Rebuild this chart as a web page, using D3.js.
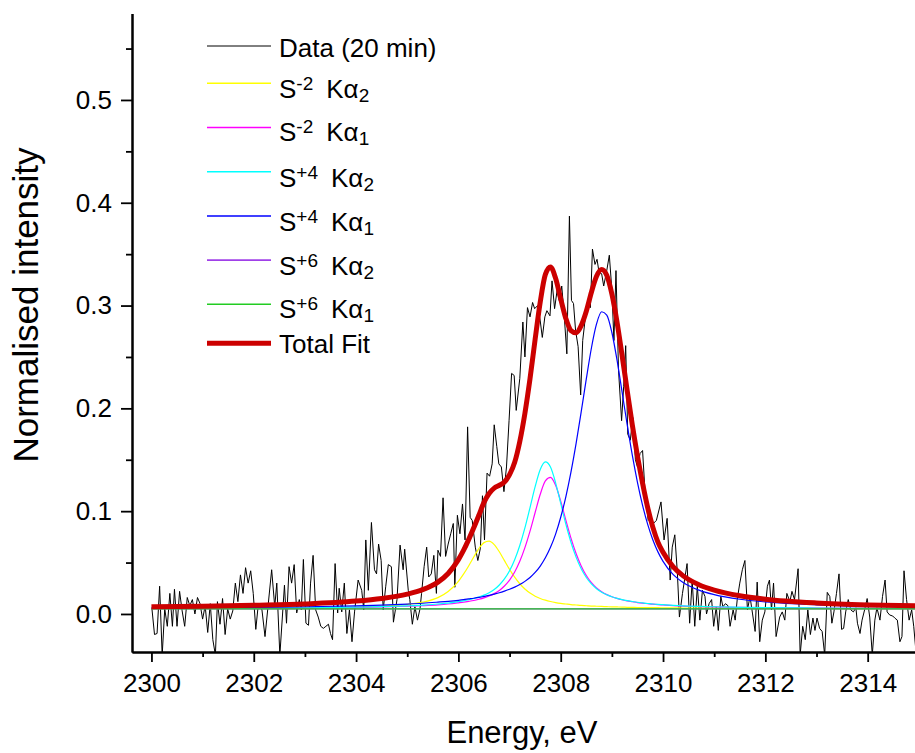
<!DOCTYPE html>
<html lang="en">
<head>
<meta charset="UTF-8" />
<title>Sulfur K-alpha spectrum fit</title>
<script src="https://d3js.org/d3.v7.min.js"></script>
<style>
  body { margin: 0; background: #fff; }
  svg text { font-family: "Liberation Sans", Arial, sans-serif; fill: #000; }
</style>
</head>
<body>
<div id="chart"></div>
<script>
// measured spectrum: [energy eV, normalised intensity]
const dataPoints = [
  [2300.01,0.005],[2300.06,-0.020],[2300.11,-0.019],[2300.16,0.027],[2300.21,-0.040],[2300.26,0.005],[2300.31,-0.012],[2300.36,0.020],[2300.41,-0.012],[2300.45,0.024],
  [2300.50,-0.012],[2300.55,0.022],[2300.60,0.003],[2300.65,-0.012],[2300.70,0.016],[2300.75,0.008],[2300.80,0.014],[2300.85,0.000],[2300.90,0.016],[2300.95,0.010],
  [2301.00,-0.005],[2301.05,0.008],[2301.10,-0.018],[2301.15,0.010],[2301.20,-0.025],[2301.25,-0.040],[2301.29,0.012],[2301.34,-0.010],[2301.39,0.015],[2301.44,-0.020],
  [2301.49,0.005],[2301.54,-0.005],[2301.59,0.003],[2301.64,0.030],[2301.69,0.012],[2301.74,0.038],[2301.79,0.020],[2301.84,0.045],[2301.89,0.030],[2301.94,0.042],
  [2301.99,0.020],[2302.04,-0.015],[2302.09,0.010],
  [2302.16,0.004],[2302.22,-0.022],[2302.35,0.043],[2302.41,0.007],[2302.45,0.030],[2302.51,-0.040],[2302.60,0.028],[2302.64,-0.009],[2302.69,0.046],[2302.74,0.030],
  [2302.79,0.048],[2302.84,0.001],[2302.89,0.014],[2302.93,0.004],[2302.97,0.053],[2303.02,-0.009],[2303.07,-0.011],[2303.11,0.030],[2303.16,0.057],[2303.21,0.004],
  [2303.26,-0.003],[2303.31,-0.012],[2303.36,-0.014],[2303.41,-0.012],[2303.46,-0.010],[2303.50,-0.019],[2303.54,-0.025],[2303.59,0.049],[2303.64,0.001],[2303.67,0.025],
  [2303.72,0.002],[2303.77,0.030],[2303.82,-0.019],[2303.87,0.004],[2303.92,-0.027],[2303.97,0.002],[2304.04,0.033],[2304.11,0.023],[2304.15,0.004],[2304.19,0.072],
  [2304.24,0.023],[2304.30,0.089],[2304.36,0.043],[2304.40,0.039],[2304.44,0.068],[2304.49,0.052],[2304.53,0.004],[2304.58,0.027],[2304.63,0.048],[2304.69,0.046],
  [2304.73,-0.008],[2304.80,0.014],[2304.86,0.067],[2304.92,0.043],[2304.95,0.063],[2305.02,0.023],[2305.05,0.014],[2305.10,-0.010],[2305.15,0.007],[2305.20,-0.006],
  [2305.25,0.005],[2305.28,0.020],[2305.33,0.046],[2305.38,0.065],[2305.42,0.036],[2305.47,0.039],[2305.52,0.057],[2305.57,0.020],[2305.60,0.062],[2305.65,0.056],
  [2305.70,0.113],[2305.75,0.056],[2305.80,0.068],[2305.85,0.078],[2305.90,0.088],[2305.93,0.026],[2305.98,0.096],[2306.03,0.078],[2306.08,0.107],[2306.13,0.072],
  [2306.18,0.182],[2306.23,0.094],[2306.27,0.091],[2306.33,0.065],[2306.38,0.052],[2306.43,0.064],[2306.47,0.115],[2306.51,0.072],[2306.56,0.137],[2306.61,0.134],
  [2306.66,0.146],[2306.70,0.184],[2306.75,0.163],[2306.79,0.146],[2306.84,0.143],[2306.89,0.119],[2306.94,0.143],[2306.99,0.188],[2307.04,0.234],[2307.09,0.232],
  [2307.13,0.198],
  [2307.20,0.229],[2307.26,0.284],[2307.30,0.250],[2307.35,0.298],[2307.40,0.289],[2307.45,0.303],[2307.49,0.297],[2307.55,0.300],[2307.60,0.285],[2307.64,0.269],
  [2307.69,0.289],[2307.73,0.295],[2307.79,0.290],[2307.83,0.324],[2307.88,0.297],[2307.93,0.315],[2307.97,0.305],[2308.02,0.319],[2308.07,0.289],[2308.12,0.253],
  [2308.17,0.387],[2308.21,0.305],[2308.25,0.302],[2308.29,0.276],[2308.34,0.260],[2308.39,0.213],[2308.43,0.266],[2308.49,0.292],[2308.53,0.305],[2308.58,0.298],
  [2308.62,0.355],[2308.67,0.340],[2308.71,0.345],[2308.75,0.332],[2308.80,0.331],[2308.84,0.319],[2308.90,0.334],[2308.95,0.349],[2309.00,0.315],[2309.04,0.266],
  [2309.08,0.334],[2309.13,0.237],[2309.19,0.188],[2309.23,0.221],[2309.27,0.261],[2309.31,0.175],[2309.36,0.169],[2309.41,0.191],[2309.46,0.150],[2309.50,0.143],
  [2309.55,0.156],[2309.60,0.159],[2309.65,0.117],[2309.71,0.091],
  [2309.74,0.095],[2309.81,0.088],[2309.87,0.091],[2309.96,0.109],[2310.02,0.072],[2310.08,0.093],[2310.14,0.033],[2310.18,0.065],[2310.23,0.077],[2310.28,0.040],
  [2310.32,-0.003],[2310.38,0.020],[2310.42,0.033],[2310.47,0.049],[2310.52,-0.009],[2310.57,0.033],[2310.62,-0.012],[2310.67,0.027],[2310.72,-0.006],[2310.77,0.023],
  [2310.82,0.017],[2310.85,0.000],[2310.90,0.010],[2310.95,0.014],[2310.99,-0.012],[2311.04,0.007],[2311.08,-0.016],[2311.13,0.017],[2311.17,0.007],[2311.22,0.010],
  [2311.27,0.008],[2311.31,-0.012],[2311.37,0.004],[2311.41,-0.006],[2311.45,0.014],[2311.50,0.030],[2311.55,0.043],[2311.60,0.052],[2311.65,0.004],[2311.70,0.017],
  [2311.75,0.000],[2311.80,-0.017],[2311.84,0.031],[2311.89,-0.027],[2311.94,-0.006],[2311.99,0.002],[2312.04,0.027],[2312.08,0.033],[2312.12,0.004],[2312.16,0.030],
  [2312.21,-0.022],
  [2312.28,-0.003],[2312.33,0.002],[2312.38,-0.006],[2312.42,0.020],[2312.48,0.012],[2312.52,0.022],[2312.57,0.014],[2312.64,0.044],[2312.68,-0.040],[2312.73,-0.012],
  [2312.78,-0.025],[2312.83,0.004],[2312.88,-0.020],[2312.93,-0.004],[2312.97,-0.016],[2313.01,-0.004],[2313.06,-0.014],[2313.11,-0.017],[2313.16,-0.040],[2313.21,0.021],
  [2313.26,0.017],[2313.30,-0.009],[2313.34,0.002],[2313.39,0.020],[2313.44,0.039],[2313.49,-0.015],[2313.53,-0.014],[2313.57,0.002],[2313.62,0.014],[2313.67,0.004],
  [2313.72,0.002],[2313.77,0.006],[2313.80,-0.009],[2313.85,-0.019],[2313.89,-0.006],[2313.94,0.004],[2313.99,0.015],[2314.04,-0.003],[2314.09,-0.040],[2314.14,-0.006],
  [2314.18,0.006],[2314.24,-0.006],[2314.29,0.017],[2314.34,0.033],[2314.38,0.002],[2314.43,-0.001],[2314.49,-0.002],[2314.53,-0.004],[2314.58,-0.006],[2314.63,-0.027],
  [2314.67,-0.022],[2314.71,0.042],[2314.76,0.014],[2314.81,-0.006],[2314.86,0.004],[2314.90,-0.012],[2314.95,-0.040]
];

// energies at which the fitted curves were read
const fitEnergy = [
  2300, 2301, 2302, 2303, 2304, 2304.5, 2305, 2305.3, 2305.6, 2305.8,
  2306.0, 2306.1, 2306.2, 2306.3, 2306.4, 2306.5, 2306.6, 2306.7, 2306.8, 2306.9,
  2307.0, 2307.1, 2307.2, 2307.3, 2307.4, 2307.5, 2307.6, 2307.7, 2307.8, 2307.9,
  2308.0, 2308.1, 2308.2, 2308.3, 2308.4, 2308.5, 2308.6, 2308.7, 2308.8, 2308.9,
  2309.0, 2309.1, 2309.2, 2309.3, 2309.4, 2309.5, 2309.6, 2309.7, 2309.8, 2309.9,
  2310.0, 2310.2, 2310.4, 2310.7, 2311.0, 2311.5, 2312, 2313, 2314, 2315
];
const s2Ka2 = [
  .0053,.0054,.0056,.0059,.0067,.0076,.0093,.0115,.0159,.0218,
  .0318,.0387,.0467,.0554,.0636,.0694,.0709,.0675,.0605,.0519,
  .0434,.0358,.0294,.0243,.0203,.0173,.0151,.0134,.0121,.0111,
  .0103,.0097,.0091,.0087,.0083,.0080,.0077,.0075,.0073,.0071,
  .0069,.0068,.0067,.0065,.0064,.0063,.0063,.0062,.0061,.0061,
  .0060,.0059,.0058,.0057,.0056,.0055,.0054,.0053,.0052,.0052
];
const s2Ka1 = [
  .0053,.0054,.0056,.0058,.0063,.0068,.0075,.0081,.0089,.0097,
  .0108,.0114,.0122,.0131,.0143,.0157,.0175,.0198,.0229,.0272,
  .0330,.0408,.0512,.0645,.0806,.0987,.1164,.1294,.1328,.1251,
  .1096,.0913,.0738,.0588,.0467,.0374,.0304,.0253,.0216,.0188,
  .0167,.0151,.0138,.0127,.0119,.0111,.0105,.0100,.0095,.0091,
  .0088,.0082,.0077,.0072,.0068,.0064,.0061,.0057,.0055,.0054
];
const s4Ka2 = [
  .0054,.0055,.0057,.0060,.0066,.0071,.0079,.0086,.0097,.0106,
  .0120,.0128,.0138,.0150,.0164,.0183,.0207,.0238,.0282,.0341,
  .0421,.0528,.0666,.0837,.1035,.1238,.1405,.1479,.1429,.1276,
  .1076,.0875,.0698,.0553,.0440,.0355,.0292,.0246,.0212,.0187,
  .0168,.0152,.0140,.0130,.0121,.0114,.0107,.0102,.0097,.0093,
  .0090,.0084,.0079,.0074,.0070,.0065,.0062,.0058,.0055,.0054
];
const s4Ka1 = [
  .0059,.0061,.0065,.0070,.0079,.0086,.0096,.0104,.0115,.0123,
  .0133,.0139,.0146,.0153,.0161,.0171,.0181,.0193,.0206,.0222,
  .0240,.0261,.0286,.0317,.0355,.0404,.0466,.0546,.0648,.0777,
  .0941,.1140,.1380,.1657,.1965,.2286,.2587,.2821,.2940,.2908,
  .2738,.2471,.2158,.1839,.1542,.1280,.1056,.0871,.0722,.0604,
  .0512,.0383,.0304,.0232,.0188,.0143,.0117,.0089,.0076,.0068
];
const totalFit = [
  .0069,.0074,.0084,.0097,.0125,.0151,.0193,.0236,.0310,.0394,
  .0529,.0618,.0723,.0838,.0960,.1085,.1172,.1224,.1252,.1284,
  .1355,.1475,.1678,.1952,.2289,.2672,.3036,.3303,.3376,.3265,
  .3066,.2875,.2757,.2735,.2805,.2945,.3130,.3285,.3351,.3294,
  .3112,.2842,.2513,.2171,.1836,.1538,.1271,.1035,.0845,.0699,
  .0600,.0458,.0368,.0285,.0232,.0177,.0144,.0107,.0088,.0078
];
// the two S+6 peaks were fitted with zero height
const flatEnergy = [2300, 2315];
const s6Ka2 = [0.005, 0.005];
const s6Ka1 = [0.005, 0.005];

const xTicks = [2300, 2302, 2304, 2306, 2308, 2310, 2312, 2314];
const xMinorTicks = [2301, 2303, 2305, 2307, 2309, 2311, 2313];
const yTicks = [0.0, 0.1, 0.2, 0.3, 0.4, 0.5];
const yMinorTicks = [0.05, 0.15, 0.25, 0.35, 0.45, 0.55];

const svg = d3.select('#chart').append('svg')
  .attr('width', 915)
  .attr('height', 753);

const x = d3.scaleLinear().domain([2299.62, 2314.925]).range([132, 915]);
const y = d3.scaleLinear().domain([-0.037, 0.584]).range([652, 13.6]);

svg.append('defs').append('clipPath').attr('id', 'plot-clip')
  .append('rect').attr('x', 132).attr('y', 0).attr('width', 783).attr('height', 652);

const plot = svg.append('g').attr('clip-path', 'url(#plot-clip)');

const zip = (xs, ys) => xs.map((e, i) => [e, ys[i]]);
const rawLine = d3.line().x(d => x(d[0])).y(d => y(d[1]));
const fitLine = d3.line().curve(d3.curveMonotoneX).x(d => x(d[0])).y(d => y(d[1]));

const series = [
  { label: { base: 'Data (20 min)' }, color: '#000000', width: 1, pts: dataPoints, raw: true },
  { label: { base: 'S', sup: '-2', sub: '2' }, color: '#ffff00', width: 1.2, pts: zip(fitEnergy, s2Ka2) },
  { label: { base: 'S', sup: '-2', sub: '1' }, color: '#ff00ff', width: 1.2, pts: zip(fitEnergy, s2Ka1) },
  { label: { base: 'S', sup: '+4', sub: '2' }, color: '#00ffff', width: 1.2, pts: zip(fitEnergy, s4Ka2) },
  { label: { base: 'S', sup: '+4', sub: '1' }, color: '#0000ff', width: 1.2, pts: zip(fitEnergy, s4Ka1) },
  { label: { base: 'S', sup: '+6', sub: '2' }, color: '#a040e8', width: 1.2, pts: zip(flatEnergy, s6Ka2) },
  { label: { base: 'S', sup: '+6', sub: '1' }, color: '#22cc22', width: 1.2, pts: zip(flatEnergy, s6Ka1) },
  { label: { base: 'Total Fit' }, color: '#cc0000', width: 5, pts: zip(fitEnergy, totalFit) }
];

series.forEach(s => {
  plot.append('path')
    .datum(s.pts)
    .attr('d', s.raw ? rawLine : fitLine)
    .attr('fill', 'none')
    .attr('stroke', s.color)
    .attr('stroke-width', s.width)
    .attr('stroke-linejoin', 'round');
});

// axes
function styleAxis(g) {
  g.select('.domain').attr('stroke-width', 2);
  g.selectAll('.tick line').attr('stroke-width', 1.8);
  g.selectAll('.tick text').attr('font-size', 26).attr('font-family', '"Liberation Sans", Arial, sans-serif');
}

svg.append('g')
  .attr('transform', 'translate(0,652)')
  .call(d3.axisBottom(x).tickValues(xMinorTicks).tickSize(5).tickSizeOuter(0).tickFormat(''))
  .call(styleAxis);
svg.append('g')
  .attr('transform', 'translate(0,652)')
  .call(d3.axisBottom(x).tickValues(xTicks).tickSize(10).tickPadding(12).tickSizeOuter(0).tickFormat(d3.format('d')))
  .call(styleAxis);

svg.append('g')
  .attr('transform', 'translate(132,0)')
  .call(d3.axisLeft(y).tickValues(yMinorTicks).tickSize(6).tickSizeOuter(0).tickFormat(''))
  .call(styleAxis);
svg.append('g')
  .attr('transform', 'translate(132,0)')
  .call(d3.axisLeft(y).tickValues(yTicks).tickSize(11).tickPadding(9).tickSizeOuter(0).tickFormat(d3.format('.1f')))
  .call(styleAxis);

svg.append('text')
  .attr('x', 522)
  .attr('y', 743)
  .attr('text-anchor', 'middle')
  .attr('font-size', 31)
  .text('Energy, eV');

svg.append('text')
  .attr('transform', 'translate(38,305) rotate(-90)')
  .attr('text-anchor', 'middle')
  .attr('font-size', 35)
  .text('Normalised intensity');

// legend
const legendRows = [
  { line: 46, base: 56.7 },
  { line: 83.3, base: 98.3 },
  { line: 127.5, base: 141 },
  { line: 171.7, base: 186.7 },
  { line: 216, base: 230.5 },
  { line: 260.1, base: 274.5 },
  { line: 304.3, base: 318 },
  { line: 343.3, base: 353.3 }
];

const legend = svg.append('g');
series.forEach((s, i) => {
  const row = legendRows[i];
  legend.append('line')
    .attr('x1', 207).attr('x2', 271)
    .attr('y1', row.line).attr('y2', row.line)
    .attr('stroke', s.color)
    .attr('stroke-width', s.raw ? 1 : Math.max(s.width, 1.6));
  const t = legend.append('text')
    .attr('x', 279)
    .attr('y', row.base)
    .attr('font-size', 26);
  t.append('tspan').text(s.label.base);
  if (s.label.sup) {
    t.append('tspan').attr('font-size', 19).attr('dy', -8).text(s.label.sup);
    t.append('tspan').attr('font-size', 26).attr('dy', 8).attr('dx', 13).text('K\u03b1');
    t.append('tspan').attr('font-size', 19).attr('dy', 4).text(s.label.sub);
  }
});
</script>
</body>
</html>
